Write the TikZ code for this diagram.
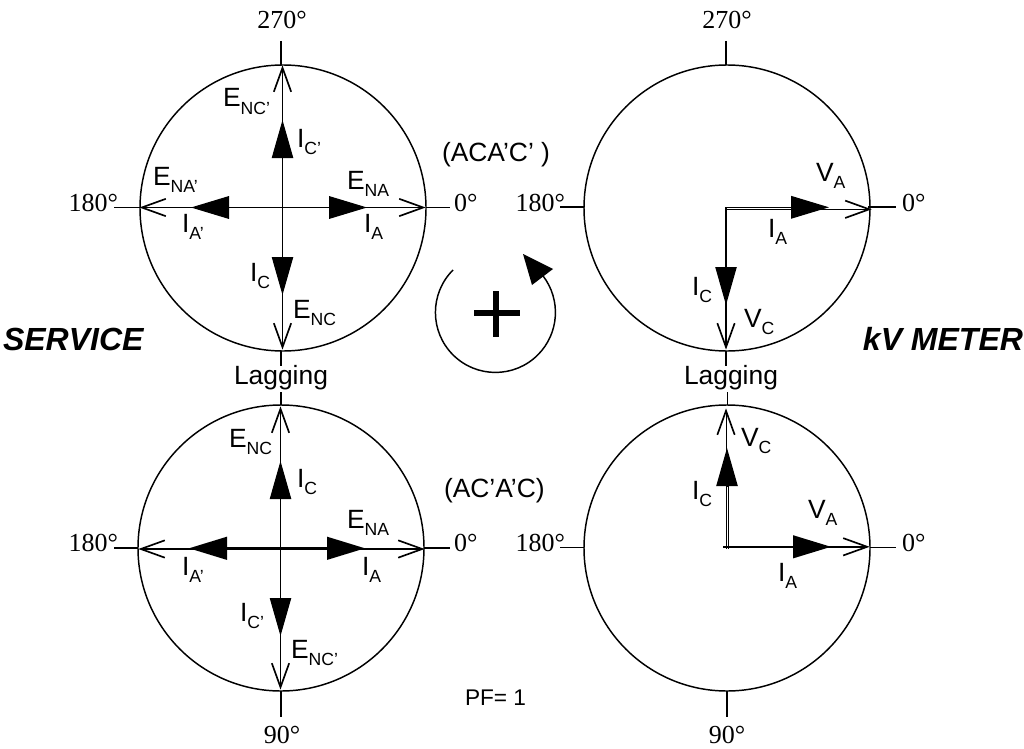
\documentclass[tikz,border=0pt]{standalone}
\usepackage{fontspec}
\setmainfont{Liberation Sans}
\newfontfamily\serifdeg{Liberation Serif}
\usetikzlibrary{arrows.meta}
\pgfdeclarearrow{
  name=OpenVee,
  setup code={\pgfarrowssettipend{0.6pt}\pgfarrowssetlineend{-1pt}\pgfarrowssetvisualbackend{-18pt}\pgfarrowsupperhullpoint{-18pt}{6.5pt}\pgfarrowsupperhullpoint{0pt}{0pt}},
  drawing code={\pgfsetdash{}{0pt}\pgfsetlinewidth{1.25pt}\pgfpathmoveto{\pgfpoint{-18pt}{6.5pt}}\pgfpathlineto{\pgfpointorigin}\pgfpathlineto{\pgfpoint{-18pt}{-6.5pt}}\pgfusepathqstroke}
}
\tikzset{
  x=0.75pt,y=-0.75pt,
  dial/.style={draw,line width=1.1pt},
  tick/.style={line width=0.85pt},
  solidtip/.style={line width=0.85pt,-{Triangle[length=28.5pt,width=17pt]}},
  solidtipv/.style={line width=0.85pt,-{Triangle[length=28.5pt,width=16pt]}},
  opentip/.style={line width=0.85pt,-{OpenVee}},
  lab/.style={inner sep=0pt,outer sep=0pt,anchor=base west,font=\fontsize{19.8pt}{21pt}\selectfont},
  deg/.style={inner sep=0pt,outer sep=0pt,font=\serifdeg\fontsize{19.5pt}{21pt}\selectfont},
  small/.style={inner sep=0pt,outer sep=0pt,anchor=base west,font=\fontsize{17pt}{18pt}\selectfont},
  big/.style={inner sep=0pt,outer sep=0pt,font=\bfseries\itshape\fontsize{24pt}{26pt}\selectfont}
}
\newcommand{\sbs}[2]{#1\raisebox{-0.3em}{\fontsize{13.2pt}{14pt}\selectfont #2}}
\begin{document}
\begin{tikzpicture}
\useasboundingbox (0,0) rectangle (1024,749);
% --- top left
\coordinate (aC) at (282.5,207.5);
\draw[dial] (283,208) circle[radius=143];
\coordinate (aT0) at (281,41);\coordinate (aT1) at (281,65);
\coordinate (aB0) at (281,351);\coordinate (aB1) at (281,366);
\coordinate (aL0) at (114,207.5);\coordinate (aL1) at (140,207.5);
\coordinate (aR0) at (426,207.5);\coordinate (aR1) at (450,207.5);
\draw[tick] (aT0)--(aT1) (aB0)--(aB1) (aL0)--(aL1) (aR0)--(aR1);
\coordinate (aE) at (424,207.5);\coordinate (aW) at (141,207.5);
\coordinate (aN) at (282.5,67);\coordinate (aS) at (282.5,348);
\draw[opentip] (aC)--(aE); \draw[opentip] (aC)--(aW); \draw[opentip] (aC)--(aN); \draw[opentip] (aC)--(aS);
\coordinate (aIe) at (367,207.5);\coordinate (aIw) at (191,207.5);
\coordinate (aIn) at (282.5,120);\coordinate (aIs) at (282.5,295);
\draw[solidtip] (aC)--(aIe); \draw[solidtip] (aC)--(aIw); \draw[solidtipv] (aC)--(aIn); \draw[solidtipv] (aC)--(aIs);
\node[deg,anchor=base] (a270) at (282,29) {270°};
\node[deg,anchor=base east] (a180) at (118,211) {180°};
\node[deg,anchor=base west] (a0) at (454,211) {0°};
\node[lab] (tENCp) at (223,107) {\sbs{E}{NC’}};
\node[lab] (tICp) at (297,147) {\sbs{I}{C’}};
\node[lab] (tENAp) at (153,185) {\sbs{E}{NA’}};
\node[lab] (tENA) at (347,189) {\sbs{E}{NA}};
\node[lab] (tIAp) at (182,232) {\sbs{I}{A’}};
\node[lab] (tIA) at (364,232) {\sbs{I}{A}};
\node[lab] (tIC) at (250,281) {\sbs{I}{C}};
\node[lab] (tENC) at (293,318) {\sbs{E}{NC}};
\node[lab] (tACA) at (442,161) {(ACA’C’ )};
% --- rotation sign
\coordinate (rS) at (453,270);
\draw[line width=1.1pt] (rS) arc[start angle=225,end angle=-37.5,radius=60];
\coordinate (r1) at (523,254);\coordinate (r2) at (553,269);\coordinate (r3) at (532,285);
\fill (r1)--(r2)--(r3)--cycle;
\coordinate (pL) at (474,313);\coordinate (pR) at (520,313);
\coordinate (pT) at (496,291);\coordinate (pB) at (496,337);
\draw[line width=4.5pt] (pL)--(pR) (pT)--(pB);
% --- top right
\draw[dial] (727,208) circle[radius=143];
\coordinate (bC) at (726,207.3);
\coordinate (bT0) at (726,41);\coordinate (bT1) at (726,65);
\coordinate (bB0) at (726,351);\coordinate (bB1) at (726,366);
\coordinate (bL0) at (560,207);\coordinate (bL1) at (584,207);
\coordinate (bR0) at (868,207);\coordinate (bR1) at (896,207);
\draw[tick] (bT0)--(bT1) (bB0)--(bB1) (bL0)--(bL1) (bR0)--(bR1);
\coordinate (bC2) at (726,209.3);\coordinate (bE) at (870,209.3);\coordinate (bS) at (726,348);
\coordinate (bIe) at (829,207.3);\coordinate (bIs) at (726,305);
\draw[opentip] (bC2)--(bE); \draw[opentip] (bC)--(bS);
\draw[solidtip] (bC)--(bIe); \draw[solidtipv] (bC)--(bIs);
\node[deg,anchor=base] (b270) at (727,29) {270°};
\node[deg,anchor=base east] (b180) at (565,211) {180°};
\node[deg,anchor=base west] (b0) at (902,211) {0°};
\node[lab] (tVA) at (816,181) {\sbs{V}{A}};
\node[lab] (tIA2) at (768,237) {\sbs{I}{A}};
\node[lab] (tIC2) at (692,295) {\sbs{I}{C}};
\node[lab] (tVC) at (744,327) {\sbs{V}{C}};
% --- side titles
\node[big,anchor=base west] (tS) at (3,350) {SERVICE};
\node[big,anchor=base east] (tK) at (1023,350) {kV METER};
\node[lab,anchor=base] (tLag1) at (281,384) {Lagging};
\node[lab,anchor=base] (tLag2) at (731,384) {Lagging};
% --- bottom left
\draw[dial] (281,548) circle[radius=143];
\coordinate (cC) at (280.5,549);
\coordinate (cM) at (280.5,548.3);
\coordinate (cT0) at (281,392);\coordinate (cT1) at (281,405);
\coordinate (cB0) at (281,691);\coordinate (cB1) at (281,717);
\coordinate (cL0) at (114,548);\coordinate (cL1) at (138,548);
\coordinate (cR0) at (424,548);\coordinate (cR1) at (450,548);
\draw[tick] (cT0)--(cT1) (cB0)--(cB1) (cL0)--(cL1) (cR0)--(cR1);
\coordinate (cE) at (423,549);\coordinate (cW) at (140,549);
\coordinate (cN) at (280.5,408);\coordinate (cS) at (280.5,688);
\draw[opentip] (cC)--(cE); \draw[opentip] (cC)--(cW); \draw[opentip] (cC)--(cN); \draw[opentip] (cC)--(cS);
\coordinate (cIe) at (365,548.3);\coordinate (cIw) at (189,548.3);
\coordinate (cIn) at (280.5,461);\coordinate (cIs) at (280.5,636);
\draw[solidtip,line width=1.7pt] (cM)--(cIe); \draw[solidtip,line width=1.7pt] (cM)--(cIw);
\draw[solidtipv] (cC)--(cIn); \draw[solidtipv] (cC)--(cIs);
\node[deg,anchor=base east] (c180) at (118,551) {180°};
\node[deg,anchor=base west] (c0) at (454,551) {0°};
\node[deg,anchor=base] (c90) at (282,743) {90°};
\node[lab] (uENC) at (229,447) {\sbs{E}{NC}};
\node[lab] (uIC) at (297,487) {\sbs{I}{C}};
\node[lab] (uENA) at (347,528) {\sbs{E}{NA}};
\node[lab] (uIAp) at (182,575) {\sbs{I}{A’}};
\node[lab] (uIA) at (362,575) {\sbs{I}{A}};
\node[lab] (uICp) at (240,621) {\sbs{I}{C’}};
\node[lab] (uENCp) at (291,658) {\sbs{E}{NC’}};
\node[lab] (uAC) at (444,497) {(AC’A’C)};
\node[small] (uPF) at (465,705) {PF= 1};
% --- bottom right
\draw[dial] (727,548) circle[radius=143];
\coordinate (dX) at (723,546.8);
\coordinate (dT0) at (727.5,392);\coordinate (dT1) at (727.5,405);
\coordinate (dB0) at (727,691);\coordinate (dB1) at (727,717);
\coordinate (dL0) at (560,547.5);\coordinate (dL1) at (584,547.5);
\coordinate (dR0) at (870,547.5);\coordinate (dR1) at (896,547.5);
\draw[tick] (dT0)--(dT1) (dB0)--(dB1) (dL0)--(dL1) (dR0)--(dR1);
\coordinate (dE) at (868,546.8);\coordinate (dN) at (726,410);
\coordinate (dN2) at (726,548.5);
\coordinate (dIe) at (831,546.8);\coordinate (dIn) at (727,448);
\coordinate (dIb) at (727,487);
\coordinate (dIc) at (728.6,548.5);\coordinate (dIc2) at (728.6,486);
\draw[opentip,line width=1.5pt] (dX)--(dE); \draw[opentip,line width=0.6pt] (dN2)--(dN);
\draw[solidtip,line width=1.5pt] (dX)--(dIe); \draw[solidtipv] (dIb)--(dIn);
\draw[line width=0.6pt] (dIc)--(dIc2);
\node[deg,anchor=base east] (d180) at (565,551) {180°};
\node[deg,anchor=base west] (d0) at (902,551) {0°};
\node[deg,anchor=base] (d90) at (727,743) {90°};
\node[lab] (vVC) at (741,446) {\sbs{V}{C}};
\node[lab] (vIC) at (692,499) {\sbs{I}{C}};
\node[lab] (vVA) at (808,518) {\sbs{V}{A}};
\node[lab] (vIA) at (778,581) {\sbs{I}{A}};
\end{tikzpicture}
\end{document}
